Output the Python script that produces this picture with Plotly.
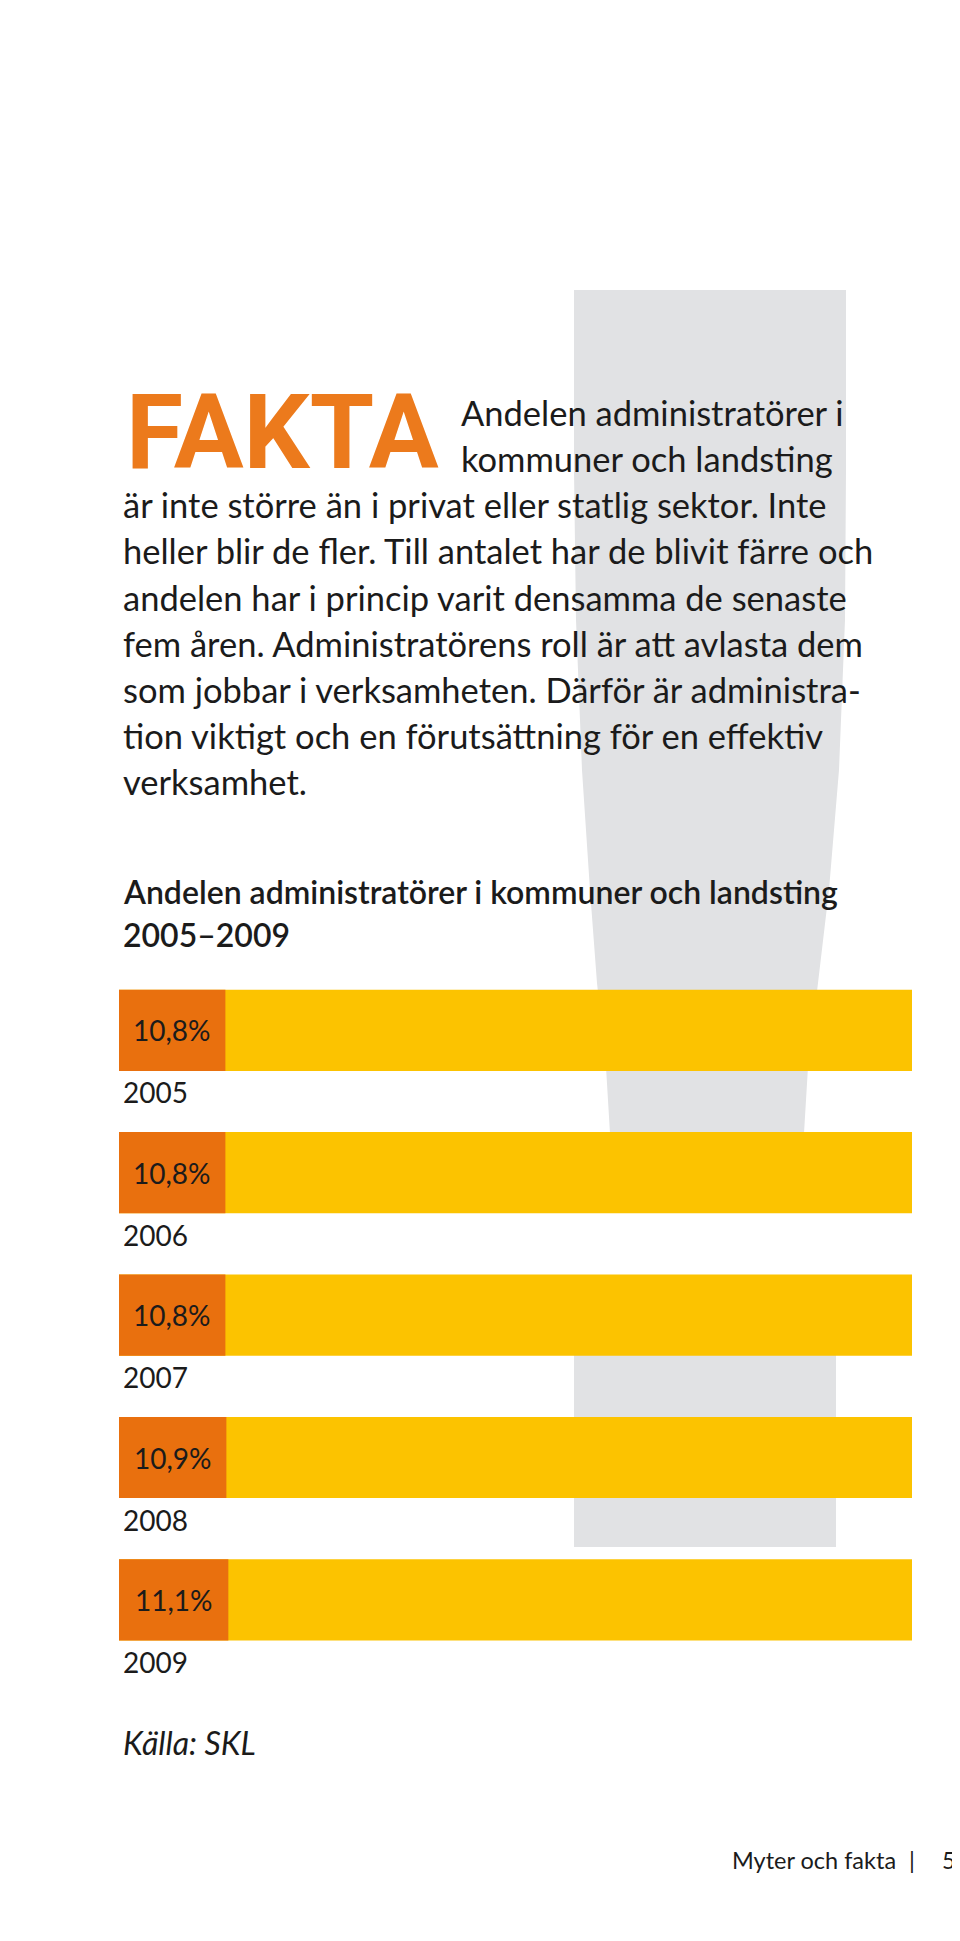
import plotly.graph_objects as go

# ---------------- data ----------------
years = ["2005", "2006", "2007", "2008", "2009"]
shares = [10.8, 10.8, 10.8, 10.9, 11.1]

logo_text = "FAKTA"
header_lines = ["Andelen administratörer i", "kommuner och landsting"]
body_lines = [
    "är inte större än i privat eller statlig sektor. Inte",
    "heller blir de fler. Till antalet har de blivit färre och",
    "andelen har i princip varit densamma de senaste",
    "fem åren. Administratörens roll är att avlasta dem",
    "som jobbar i verksamheten. Därför är administra-",
    "tion viktigt och en förutsättning för en effektiv",
    "verksamhet.",
]
chart_title_lines = ["Andelen administratörer i kommuner och landsting", "2005–2009"]
source_text = "Källa: SKL"
footer_text = "Myter och fakta"
page_number = "5"

# ---------------- style ----------------
ORANGE = "#E9700E"
YELLOW = "#FCC300"
LOGO_ORANGE = "#EC7A1C"
GREY = "#E1E2E4"
INK = "#1b1b1b"
FONT = "Lato, 'Open Sans', sans-serif"

OFF = 8  # default body margin of the html page
W, H = 960 - OFF, 1941 - 2 * OFF


def px(x):
    return (x - OFF) / W


def py(y):
    return 1 - (y - OFF) / H


fig = go.Figure()

fig.add_trace(go.Bar(
    y=years, x=shares, orientation="h", width=0.57,
    marker=dict(color=ORANGE, line=dict(width=0)),
    hoverinfo="skip", showlegend=False,
))

shapes = []
# grey exclamation mark in the background (decoration)
left = [(574, 290), (574, 470), (576, 620), (582, 770), (590, 890), (597, 983), (606, 1067), (611, 1150), (613, 1205)]
right = [(846, 290), (846, 470), (845, 620), (839, 770), (829, 890), (818, 983), (808, 1067), (803, 1150), (800, 1205)]
pts = left + right[::-1]
path = "M " + " L ".join(f"{px(x):.5f},{py(y):.5f}" for x, y in pts) + " Z"
shapes.append(dict(type="path", xref="paper", yref="paper", path=path,
                   fillcolor=GREY, line=dict(width=0), layer="below"))
shapes.append(dict(type="rect", xref="paper", yref="paper",
                   x0=px(574), x1=px(836), y0=py(1547), y1=py(1285),
                   fillcolor=GREY, line=dict(width=0), layer="below"))
# yellow tracks behind the orange bars
for i, _ in enumerate(years):
    shapes.append(dict(type="rect", xref="x domain", yref="y", x0=0, x1=1,
                       y0=i - 0.285, y1=i + 0.285,
                       fillcolor=YELLOW, line=dict(width=0), layer="below"))

ann = []
ann.append(dict(text=f"<b>{logo_text}</b>", x=px(124), y=py(432), xref="paper", yref="paper",
                xanchor="left", yanchor="middle", showarrow=False,
                font=dict(family="Roboto, sans-serif", size=104, color=LOGO_ORANGE)))

line_y0, line_step = 412, 46.25
for k, t in enumerate(header_lines + body_lines):
    x0 = 459 if k < len(header_lines) else 121
    ann.append(dict(text=t, x=px(x0), y=py(line_y0 + k * line_step), xref="paper", yref="paper",
                    xanchor="left", yanchor="middle", showarrow=False,
                    font=dict(family=FONT, size=34.5, color=INK)))

for k, t in enumerate(chart_title_lines):
    ann.append(dict(text=t, x=px(121), y=py(891 + k * 43), xref="paper", yref="paper",
                    xanchor="left", yanchor="middle", showarrow=False,
                    font=dict(family=FONT, size=32, color=INK, weight=600)))

for i, (yr, v) in enumerate(zip(years, shares)):
    ann.append(dict(text=f"{v:.1f}".replace(".", ",") + "%", x=v / 2, y=i, xref="x", yref="y",
                    xanchor="center", yanchor="middle", showarrow=False,
                    font=dict(family=FONT, size=28, color=INK)))
    ann.append(dict(text=yr, x=px(121), y=i, xref="paper", yref="y", yshift=-62,
                    xanchor="left", yanchor="middle", showarrow=False,
                    font=dict(family=FONT, size=28, color=INK)))

ann.append(dict(text=f"<i>{source_text}</i>", x=px(121), y=py(1742), xref="paper", yref="paper",
                xanchor="left", yanchor="middle", showarrow=False,
                font=dict(family=FONT, size=32, color=INK)))
ann.append(dict(text=footer_text, x=px(898), y=py(1860), xref="paper", yref="paper",
                xanchor="right", yanchor="middle", showarrow=False,
                font=dict(family=FONT, size=23.5, color=INK)))
ann.append(dict(text="|", x=px(912), y=py(1860), xref="paper", yref="paper",
                xanchor="center", yanchor="middle", showarrow=False,
                font=dict(family=FONT, size=23.5, color=INK)))
ann.append(dict(text=page_number, x=px(949), y=py(1860), xref="paper", yref="paper",
                xanchor="center", yanchor="middle", showarrow=False,
                font=dict(family=FONT, size=23.5, color=INK)))

fig.update_layout(
    width=W, height=H, autosize=False,
    margin=dict(l=0, r=0, t=0, b=0),
    paper_bgcolor="white", plot_bgcolor="rgba(0,0,0,0)",
    showlegend=False, separators=", ",
    xaxis=dict(domain=[px(119), px(912)], range=[0, 80.5], visible=False, fixedrange=True),
    yaxis=dict(domain=[py(1671.1), py(959.1)], range=[4.5, -0.5], type="category",
               categoryorder="array", categoryarray=years, visible=False, fixedrange=True),
    shapes=shapes, annotations=ann,
)

fig.write_html("out.html")
